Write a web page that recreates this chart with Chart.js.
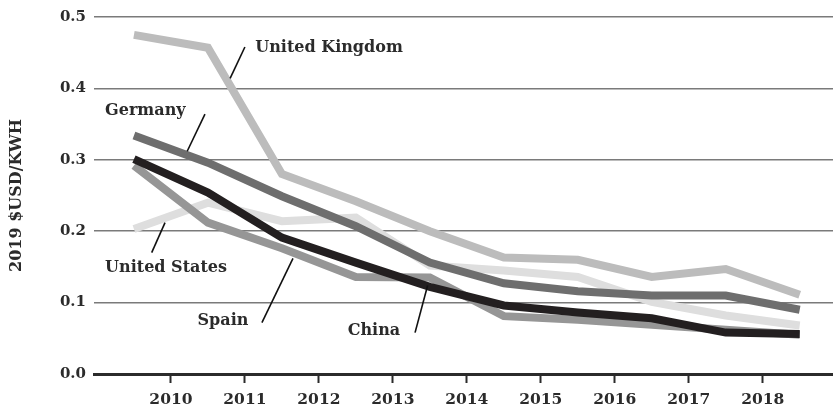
<!DOCTYPE html>
<html>
<head>
<meta charset="utf-8">
<script src="https://cdn.jsdelivr.net/npm/chart.js@4.4.1/dist/chart.umd.min.js"></script>
<style>
  html, body { margin: 0; padding: 0; background: #fff; }
  #wrap { width: 833px; height: 408px; position: relative; }
</style>
</head>
<body>
<div id="wrap"><canvas id="c" width="833" height="408"></canvas></div>
<script>
// ---- data ----
const periodMidpoints = [2009.5, 2010.5, 2011.5, 2012.5, 2013.5, 2014.5, 2015.5, 2016.5, 2017.5, 2018.5];
const yearTicks = [2010, 2011, 2012, 2013, 2014, 2015, 2016, 2017, 2018];
const yTicks = [0.0, 0.1, 0.2, 0.3, 0.4, 0.5];

const unitedKingdom = [0.475, 0.457, 0.280, 0.242, 0.200, 0.163, 0.160, 0.136, 0.147, 0.111];
const unitedStates  = [0.203, 0.240, 0.214, 0.219, 0.152, 0.145, 0.136, 0.101, 0.082, 0.068];
const germany       = [0.334, 0.296, 0.249, 0.207, 0.156, 0.127, 0.116, 0.110, 0.110, 0.090];
const spain         = [0.292, 0.212, 0.176, 0.136, 0.135, 0.081, 0.076, 0.069, 0.062, 0.055];
const china         = [0.301, 0.254, 0.191, 0.156, 0.122, 0.096, 0.086, 0.078, 0.058, 0.056];

const seriesNames = ['China', 'Spain', 'Germany', 'United States', 'United Kingdom'];

// label annotations in data units: text anchor + leader line
const labelNotes = [
  { text: 'United Kingdom', x: 2011.14, y: 0.457, lx1: 2011.00, ly1: 0.458, lx2: 2010.80, ly2: 0.414 },
  { text: 'Germany',        x: 2009.11, y: 0.368, lx1: 2010.46, ly1: 0.364, lx2: 2010.22, ly2: 0.312 },
  { text: 'United States',  x: 2009.11, y: 0.149, lx1: 2009.92, ly1: 0.212, lx2: 2009.74, ly2: 0.170 },
  { text: 'Spain',          x: 2010.36, y: 0.075, lx1: 2011.65, ly1: 0.162, lx2: 2011.23, ly2: 0.072 },
  { text: 'China',          x: 2012.39, y: 0.061, lx1: 2013.47, ly1: 0.124, lx2: 2013.30, ly2: 0.058 }
];

const FONT_FAMILY = '"DejaVu Serif", "Liberation Serif", serif';
const TEXT = '#2b2b2b';

function pts(vals) { return vals.map((v, i) => ({ x: periodMidpoints[i], y: v })); }

function ds(label, vals, color) {
  return {
    label, data: pts(vals), borderColor: color, backgroundColor: color,
    borderWidth: 8, pointRadius: 0, tension: 0, fill: false,
    borderCapStyle: 'butt', borderJoinStyle: 'miter'
  };
}

const notesPlugin = {
  id: 'notes',
  afterDatasetsDraw(chart) {
    const { ctx, scales: { x, y } } = chart;
    ctx.save();
    ctx.strokeStyle = '#111';
    ctx.lineWidth = 1.6;
    ctx.font = 'bold 16px ' + FONT_FAMILY;
    ctx.fillStyle = TEXT;
    ctx.textBaseline = 'middle';
    ctx.textAlign = 'left';
    labelNotes.forEach(n => {
      ctx.beginPath();
      ctx.moveTo(x.getPixelForValue(n.lx1), y.getPixelForValue(n.ly1));
      ctx.lineTo(x.getPixelForValue(n.lx2), y.getPixelForValue(n.ly2));
      ctx.stroke();
      ctx.fillText(n.text, x.getPixelForValue(n.x), y.getPixelForValue(n.y));
    });
    ctx.restore();
  }
};

new Chart(document.getElementById('c'), {
  type: 'line',
  data: {
    datasets: [
      ds(seriesNames[0], china, '#231f20'),
      ds(seriesNames[1], spain, '#969696'),
      ds(seriesNames[2], germany, '#6e6e6e'),
      ds(seriesNames[3], unitedStates, '#dedede'),
      ds(seriesNames[4], unitedKingdom, '#bcbcbc')
    ]
  },
  options: {
    responsive: false,
    animation: false,
    devicePixelRatio: 1,
    layout: { padding: { top: 5, right: 0, bottom: 0, left: 0 } },
    plugins: { legend: { display: false }, tooltip: { enabled: false } },
    scales: {
      x: {
        type: 'linear',
        min: 2008.96,
        max: 2018.95,
        afterBuildTicks(scale) { scale.ticks = yearTicks.map(v => ({ value: v })); },
        afterFit(scale) { scale.height = 34; },
        border: { display: true, color: '#2b2b2b', width: 3 },
        grid: { drawOnChartArea: false, drawTicks: true, tickLength: 9, tickColor: '#2b2b2b', tickWidth: 2 },
        ticks: {
          color: TEXT, padding: 8, maxRotation: 0, autoSkip: false,
          font: { family: FONT_FAMILY, size: 15.5, weight: 'bold' },
          callback: v => String(v)
        }
      },
      y: {
        min: 0,
        max: 0.5,
        afterBuildTicks(scale) { scale.ticks = yTicks.map(v => ({ value: v })); },
        afterFit(scale) { scale.width = 94; },
        border: { display: false },
        grid: { color: '#7a7a7a', lineWidth: 1.5, drawTicks: false },
        ticks: {
          color: TEXT, padding: 8,
          font: { family: FONT_FAMILY, size: 15, weight: 'bold' },
          callback: v => Number(v).toFixed(1)
        },
        title: {
          display: true, text: '2019 $USD/KWH', color: TEXT, padding: { top: 7, bottom: 0 },
          font: { family: FONT_FAMILY, size: 16, weight: 'bold' }
        }
      }
    }
  },
  plugins: [notesPlugin]
});
</script>
</body>
</html>
